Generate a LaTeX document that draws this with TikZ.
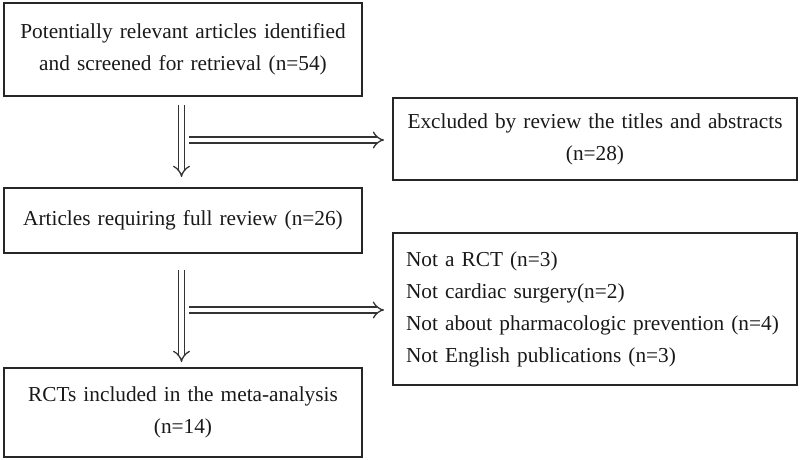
\documentclass[tikz,border=0pt]{standalone}
\usepackage{fontspec}
\setmainfont{Liberation Serif}
\usetikzlibrary{arrows.meta}
\begin{document}
\begin{tikzpicture}[x=1pt,y=-1pt,
  boxstyle/.style={draw=black!85, line width=1.8pt, inner sep=0pt, inner xsep=10pt,
    font=\fontsize{21.3}{32}\selectfont, text=black!90},
  flowarrow/.style={draw=black!80, line width=1.3pt, double=white, double distance=4.6pt,
    -{Implies[scale=1.5]}}
]
\useasboundingbox (0,0) rectangle (800,460);
\node[boxstyle, minimum width=358, minimum height=93, text width=338, align=center]
  (b1) at (183,49.5) {Potentially relevant articles identified\\and screened for retrieval (n=54)};
\node[boxstyle, minimum width=358, minimum height=65, text width=338, align=center]
  (b2) at (183,220.5) {Articles requiring full review (n=26)};
\node[boxstyle, minimum width=358, minimum height=89, text width=338, align=center]
  (b3) at (183,412.5) {RCTs included in the meta-analysis\\(n=14)};
\node[boxstyle, minimum width=404, minimum height=82, text width=384, align=center]
  (ex1) at (595,139) {Excluded by review the titles and abstracts\\(n=28)};
\node[boxstyle, inner xsep=13pt, minimum width=404, minimum height=152, text width=378, align=left]
  (ex2) at (595,309) {Not a RCT (n=3)\\Not cardiac surgery(n=2)\\Not about pharmacologic prevention (n=4)\\Not English publications (n=3)};
\coordinate (s1) at (189,140);
\coordinate (s2) at (189,310);
\draw[flowarrow] ([xshift=-1.5pt,yshift=-8pt]b1.south) -- ([xshift=-1.5pt,yshift=10pt]b2.north);
\draw[flowarrow] ([xshift=-1.5pt,yshift=-16pt]b2.south) -- ([xshift=-1.5pt,yshift=5pt]b3.north);
\draw[flowarrow] (s1) -- ([xshift=-8pt]s1 -| ex1.west);
\draw[flowarrow] (s2) -- ([xshift=-8pt]s2 -| ex2.west);
\end{tikzpicture}
\end{document}
